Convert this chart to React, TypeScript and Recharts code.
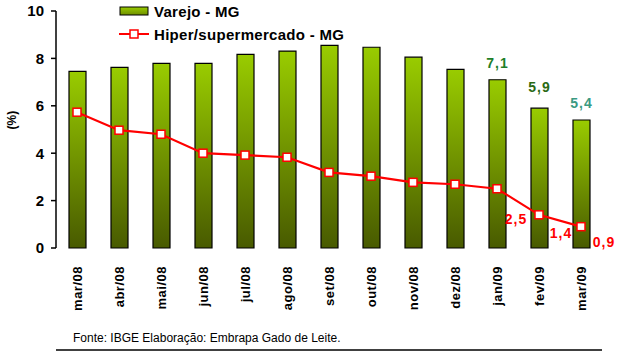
import React from 'react';
import { ComposedChart, Bar, Line, XAxis, YAxis, LabelList } from 'recharts';

const months = ['mar/08', 'abr/08', 'mai/08', 'jun/08', 'jul/08', 'ago/08', 'set/08', 'out/08', 'nov/08', 'dez/08', 'jan/09', 'fev/09', 'mar/09'];
const varejo = [7.45, 7.62, 7.79, 7.79, 8.17, 8.31, 8.55, 8.47, 8.05, 7.54, 7.1, 5.9, 5.4];
const hiper = [5.73, 4.97, 4.8, 4.0, 3.92, 3.83, 3.19, 3.03, 2.77, 2.69, 2.5, 1.4, 0.9];
const varejoLabels = [null, null, null, null, null, null, null, null, null, null, '7,1', '5,9', '5,4'];
const hiperLabels = [null, null, null, null, null, null, null, null, null, null, '2,5', '1,4', '0,9'];
const yTicks = [0, 2, 4, 6, 8, 10];
const boundaryTicks = [-0.5, 0.5, 1.5, 2.5, 3.5, 4.5, 5.5, 6.5, 7.5, 8.5, 9.5, 10.5, 11.5, 12.5];

const data = months.map((m, i) => ({
  month: m,
  varejo: varejo[i],
  hiper: hiper[i],
  varejoLabel: varejoLabels[i],
  hiperLabel: hiperLabels[i],
}));

const FONT = '"Liberation Sans", Arial, sans-serif';
const greenLabelColors: Record<string, string> = { '7,1': '#1f7f2a', '5,9': '#2a6a14', '5,4': '#3a9a82' };
const greenLabelDy: Record<string, number> = { '7,1': -12, '5,9': -16, '5,4': -12 };
const redLabelOffsets: Record<string, [number, number]> = { '2,5': [19, 35], '1,4': [22, 23], '0,9': [23, 20] };

const SquareDot = (props: any) => {
  const { cx, cy } = props;
  if (cx == null || cy == null) return null;
  return <rect x={cx - 4} y={cy - 4} width={8} height={8} fill="#ffffff" stroke="#ff0000" strokeWidth={1.5} />;
};

const GreenLabel = (props: any) => {
  const { x, y, width, value } = props;
  if (!value) return null;
  return (
    <text x={x + width / 2} y={y + greenLabelDy[value]} textAnchor="middle" fontFamily={FONT} fontWeight="bold" fontSize={14} fill={greenLabelColors[value]} letterSpacing={1}>
      {value}
    </text>
  );
};

const RedLabel = (props: any) => {
  const { x, y, value } = props;
  if (!value) return null;
  const [dx, dy] = redLabelOffsets[value];
  return (
    <text x={x + dx} y={y + dy} textAnchor="middle" fontFamily={FONT} fontWeight="bold" fontSize={14} fill="#ff0000" letterSpacing={1}>
      {value}
    </text>
  );
};

const XTick = (props: any) => {
  const { x, y, payload } = props;
  return (
    <text x={x} y={y} transform={`rotate(-90, ${x}, ${y})`} textAnchor="end" dominantBaseline="central" fontFamily={FONT} fontWeight="bold" fontSize={13} fill="#000" letterSpacing={0.5}>
      {payload.value}
    </text>
  );
};

const LegendBox = () => (
  <div style={{ position: 'absolute', left: 119, top: 0, fontFamily: FONT, fontWeight: 'bold', fontSize: 15, color: '#000', letterSpacing: 0.3 }}>
    <div style={{ display: 'flex', alignItems: 'center', height: 22 }}>
      <svg width={30} height={10} style={{ marginRight: 5 }}>
        <defs>
          <linearGradient id="legGrad" x1="0" y1="0" x2="0" y2="1">
            <stop offset="0%" stopColor="#99cc00" />
            <stop offset="100%" stopColor="#6f8f00" />
          </linearGradient>
        </defs>
        <rect x={1} y={1} width={28} height={8} fill="url(#legGrad)" stroke="#000" strokeWidth={1} />
      </svg>
      <span>Varejo - MG</span>
    </div>
    <div style={{ display: 'flex', alignItems: 'center', height: 24 }}>
      <svg width={30} height={10} style={{ marginRight: 5 }}>
        <line x1={0} y1={5} x2={30} y2={5} stroke="#ff0000" strokeWidth={2} />
        <rect x={11} y={1} width={8} height={8} fill="#fff" stroke="#ff0000" strokeWidth={1.5} />
      </svg>
      <span>Hiper/supermercado - MG</span>
    </div>
  </div>
);

export default function App() {
  return (
    <div style={{ position: 'absolute', left: 0, top: 0, width: 617, height: 351, background: '#fff' }}>
      <ComposedChart width={617} height={351} data={data} margin={{ top: 11, right: 15, bottom: 0, left: 0 }} barCategoryGap={0}>
        <defs>
          <linearGradient id="barGrad" x1="0" y1="0" x2="0" y2="1">
            <stop offset="0%" stopColor="#99cc00" />
            <stop offset="100%" stopColor="#485a00" />
          </linearGradient>
        </defs>
        <XAxis xAxisId="num" type="number" domain={[-0.5, 12.5]} ticks={boundaryTicks} tick={false} tickSize={5} height={1} axisLine={{ stroke: '#000', strokeWidth: 1.5 }} tickLine={{ stroke: '#000', strokeWidth: 1.5 }} allowDataOverflow />
        <XAxis xAxisId="cat" dataKey="month" height={102} tickLine={false} axisLine={false} tick={<XTick />} interval={0} tickMargin={12} />
        <YAxis domain={[0, 10]} ticks={yTicks} width={56} tickSize={5} tickMargin={7} axisLine={{ stroke: '#000', strokeWidth: 1.5 }} tickLine={{ stroke: '#000', strokeWidth: 1.5 }} tick={{ fontFamily: FONT, fontWeight: 'bold', fontSize: 15, fill: '#000' }} label={{ value: '(%)', angle: -90, position: 'insideLeft', offset: 12, style: { fontFamily: FONT, fontWeight: 'bold', fontSize: 12, fill: '#000' } }} />
        <Bar xAxisId="cat" dataKey="varejo" name="Varejo - MG" barSize={17} fill="url(#barGrad)" stroke="#000" strokeWidth={1.2} isAnimationActive={false}>
          <LabelList dataKey="varejoLabel" content={<GreenLabel />} />
        </Bar>
        <Line xAxisId="cat" dataKey="hiper" name="Hiper/supermercado - MG" stroke="#ff0000" strokeWidth={2.2} dot={<SquareDot />} activeDot={false} isAnimationActive={false}>
          <LabelList dataKey="hiperLabel" content={<RedLabel />} />
        </Line>
      </ComposedChart>
      <LegendBox />
      <div style={{ position: 'absolute', left: 73, top: 331, fontFamily: FONT, fontSize: 12, color: '#000', whiteSpace: 'nowrap' }}>
        Fonte: IBGE Elaboração: Embrapa Gado de Leite.
      </div>
    </div>
  );
}
